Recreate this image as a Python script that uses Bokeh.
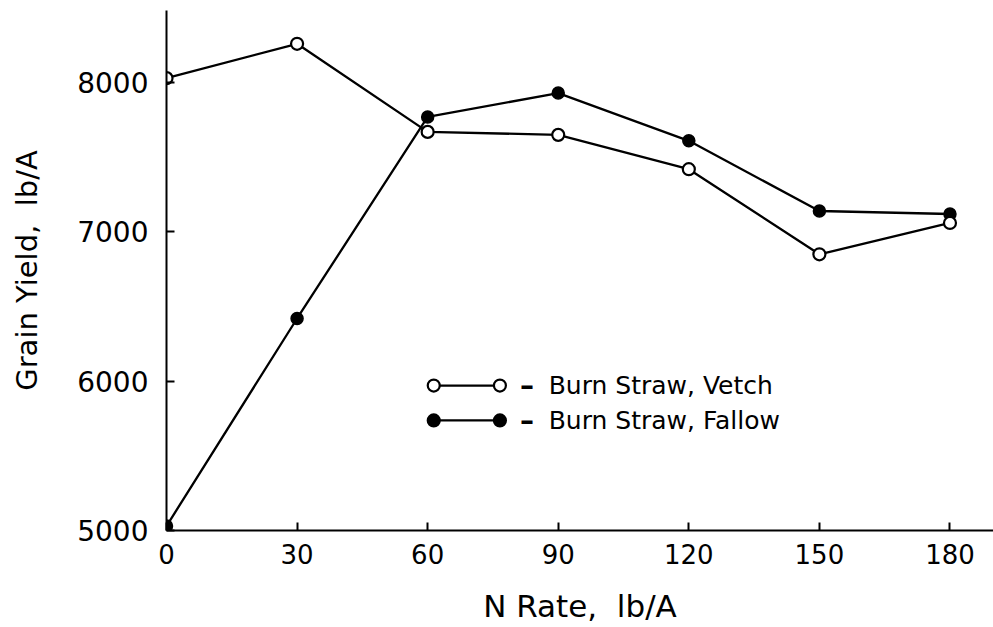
from bokeh.plotting import figure
from bokeh.models import Range1d, FixedTicker
from bokeh.core.properties import value
from bokeh.embed import file_html
from bokeh.resources import INLINE

# N rate (lb/A) and grain yield (lb/A) for the two burn-straw treatments
n_rate = [0, 30, 60, 90, 120, 150, 180]
vetch_yield = [8030, 8260, 7670, 7650, 7420, 6850, 7060]
fallow_yield = [5030, 6420, 7770, 7930, 7610, 7140, 7120]

x_ticks = [0, 30, 60, 90, 120, 150, 180]
y_ticks = [5000, 6000, 7000, 8000]

legend_labels = ["Burn Straw, Vetch", "Burn Straw, Fallow"]

FONT = "DejaVu Sans"

p = figure(
    width=993, height=627,
    x_range=Range1d(0, 190), y_range=Range1d(5000, 8483),
    output_backend="svg", toolbar_location=None,
    min_border_left=166, min_border_right=0,
    min_border_top=10, min_border_bottom=97,
)
p.outline_line_color = None
p.grid.visible = False
p.background_fill_color = "white"
p.border_fill_color = "white"

for ax in (p.xaxis, p.yaxis):
    ax.axis_line_width = 2
    ax.axis_line_color = "black"
    ax.major_tick_line_width = 2
    ax.major_tick_line_color = "black"
    ax.major_tick_in = 8
    ax.major_tick_out = 0
    ax.minor_tick_line_color = None
    ax.major_label_text_font = FONT
    ax.major_label_text_color = "black"
    ax.axis_label_text_font = FONT
    ax.axis_label_text_font_style = "normal"
    ax.axis_label_text_color = "black"

p.xaxis.ticker = FixedTicker(ticks=x_ticks)
p.yaxis.ticker = FixedTicker(ticks=y_ticks)
p.xaxis.major_label_text_font_size = "26px"
p.yaxis.major_label_text_font_size = "28px"
# non-breaking space keeps the wide gap before the unit
p.xaxis.axis_label = "N Rate,\u00a0 lb/A"
p.yaxis.axis_label = "Grain Yield,\u00a0 lb/A"
p.xaxis.axis_label_text_font_size = "31px"
p.yaxis.axis_label_text_font_size = "29px"
p.xaxis.major_label_standoff = 13
p.yaxis.major_label_standoff = 18
p.xaxis.axis_label_standoff = 21
p.yaxis.axis_label_standoff = 30

# series
p.line(n_rate, vetch_yield, line_color="black", line_width=2.3)
p.line(n_rate, fallow_yield, line_color="black", line_width=2.3)
p.scatter(n_rate, fallow_yield, size=12, marker="circle",
          fill_color="black", line_color="black", line_width=1.5)
p.scatter(n_rate, vetch_yield, size=12, marker="circle",
          fill_color="white", line_color="black", line_width=2.2)

# hand-built key: marker-line-marker, a dash, then the label
key_x = [61.4, 76.6]
key_dash_x = 81.2
key_text_x = 87.8
key_y = [5971, 5737]
fills = ["white", "black"]
for yy, fill, label in zip(key_y, fills, legend_labels):
    p.line(key_x, [yy, yy], line_color="black", line_width=2.3)
    p.scatter(key_x, [yy, yy], size=12, marker="circle",
              fill_color=fill, line_color="black", line_width=2.2)
    p.text([key_dash_x], [yy], text=["\u2013"], text_font=value(FONT),
           text_font_size="28px", text_font_style="bold",
           text_baseline="middle", text_align="left", text_color="black")
    p.text([key_text_x], [yy], text=[label], text_font=value(FONT),
           text_font_size="25px", text_baseline="middle",
           text_align="left", text_color="black")

open("out.html", "w").write(file_html(p, INLINE))
